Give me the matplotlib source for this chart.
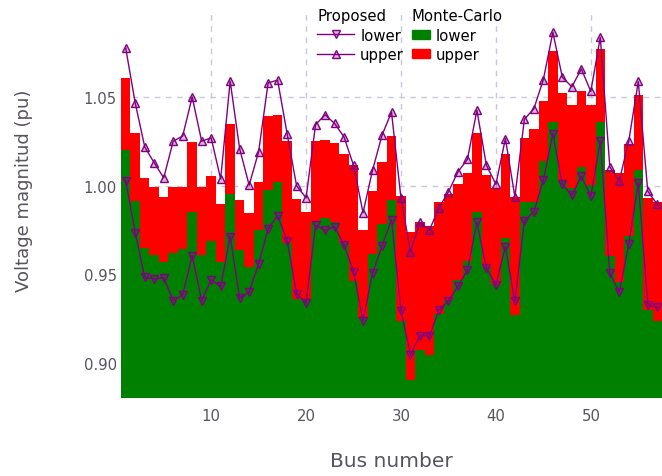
import numpy as np
import matplotlib
matplotlib.use("Agg")
import matplotlib.pyplot as plt
from matplotlib.lines import Line2D
from matplotlib.patches import Patch

bus = np.arange(1, 58)

# Proposed method bounds
prop_lower = np.array([
    1.0028, 0.9735, 0.9483, 0.9472, 0.9481, 0.9350, 0.9384, 0.9605, 0.9350, 0.9468,
    0.9431, 0.9713, 0.9365, 0.9399, 0.9558, 0.9756, 0.9831, 0.9690, 0.9391, 0.9337,
    0.9778, 0.9748, 0.9769, 0.9666, 0.9515, 0.9237, 0.9506, 0.9660, 0.9808, 0.9293,
    0.9045, 0.9153, 0.9149, 0.9299, 0.9350, 0.9431, 0.9525, 0.9793, 0.9534, 0.9440,
    0.9656, 0.9346, 0.9803, 0.9853, 1.0032, 1.0295, 1.0008, 0.9947, 1.0054, 0.9942,
    1.0252, 0.9506, 0.9399, 0.9671, 1.0017, 0.9328, 0.9312,
])
prop_upper = np.array([
    1.0778, 1.0468, 1.0220, 1.0130, 1.0045, 1.0252, 1.0282, 1.0502, 1.0252, 1.0271,
    1.0039, 1.0592, 1.0210, 1.0004, 1.0192, 1.0582, 1.0598, 1.0295, 1.0000, 0.9932,
    1.0346, 1.0402, 1.0353, 1.0276, 1.0116, 0.9848, 1.0088, 1.0286, 1.0417, 0.9929,
    0.9628, 0.9793, 0.9750, 0.9876, 0.9966, 1.0079, 1.0150, 1.0427, 1.0116, 1.0009,
    1.0267, 0.9938, 1.0376, 1.0436, 1.0601, 1.0868, 1.0614, 1.0560, 1.0661, 1.0534,
    1.0840, 1.0107, 1.0028, 1.0254, 1.0590, 0.9970, 0.9895,
])

# Monte-Carlo bounds
mc_lower = np.array([
    1.0201, 0.9912, 0.9650, 0.9607, 0.9570, 0.9619, 0.9643, 0.9853, 0.9607, 0.9686,
    0.9570, 0.9953, 0.9637, 0.9542, 0.9748, 0.9976, 1.0023, 0.9675, 0.9359, 0.9359,
    0.9797, 0.9816, 0.9797, 0.9675, 0.9459, 0.9252, 0.9617, 0.9786, 0.9919, 0.9237,
    0.8899, 0.9074, 0.9042, 0.9275, 0.9356, 0.9466, 0.9572, 0.9850, 0.9543, 0.9440,
    0.9703, 0.9271, 0.9910, 0.9910, 1.0143, 1.0361, 1.0034, 0.9989, 1.0109, 1.0004,
    1.0361, 0.9602, 0.9455, 0.9718, 1.0090, 0.9299, 0.9237,
])
mc_upper = np.array([
    1.0611, 1.0301, 1.0047, 0.9991, 0.9934, 0.9996, 0.9991, 1.0250, 0.9991, 1.0058,
    0.9895, 1.0351, 0.9917, 0.9844, 1.0023, 1.0396, 1.0402, 1.0256, 0.9923, 0.9852,
    1.0254, 1.0259, 1.0244, 1.0182, 1.0116, 0.9750, 0.9972, 1.0132, 1.0280, 0.9944,
    0.9737, 0.9793, 0.9775, 0.9906, 0.9951, 1.0013, 1.0075, 1.0301, 1.0060, 0.9989,
    1.0182, 0.9938, 1.0272, 1.0323, 1.0481, 1.0763, 1.0526, 1.0458, 1.0537, 1.0455,
    1.0774, 1.0088, 1.0070, 1.0239, 1.0511, 0.9929, 0.9910,
])

ymin, ymax = 0.88, 1.10
TXT = "#58545e"
PURPLE = "#800080"
FS = 10.7

fig = plt.figure(figsize=(6.62, 4.77), dpi=100)
ax = fig.add_axes([121 / 662, 78 / 477, 541 / 662, 389 / 477])

ax.bar(bus, mc_upper - ymin, bottom=ymin, width=1.0, color="#ff0000", linewidth=0)
ax.bar(bus, mc_lower - ymin, bottom=ymin, width=1.0, color="#008000", linewidth=0)

mk = dict(color=PURPLE, linewidth=1.0, markersize=6,
          markerfacecolor=(0.5, 0.0, 0.5, 0.3), markeredgecolor=PURPLE,
          markeredgewidth=1.0)
ax.plot(bus, prop_lower, marker="v", **mk)
ax.plot(bus, prop_upper, marker="^", **mk)

ax.set_xlim(0.5, 57.5)
ax.set_ylim(ymin, ymax)
ax.set_xticks([10, 20, 30, 40, 50])
ax.set_yticks([0.90, 0.95, 1.00, 1.05])
ax.set_yticklabels(["0.90", "0.95", "1.00", "1.05"])
ax.set_axisbelow(True)
ax.grid(True, linestyle=(0, (4, 4)), color="#c8c8dc", linewidth=1.0)
for s in ax.spines.values():
    s.set_visible(False)
ax.tick_params(length=0, labelsize=FS, labelcolor=TXT)
ax.tick_params(axis="x", pad=7)
ax.tick_params(axis="y", pad=3)

ax.set_xlabel("Bus number", fontsize=14.5, color=TXT)
ax.set_ylabel("Voltage magnitud (pu)", fontsize=13, color=TXT)
ax.xaxis.set_label_coords(0.5, -0.136)
ax.yaxis.set_label_coords(-0.163, 0.535)

h_prop = [Line2D([], [], marker="v", **mk), Line2D([], [], marker="^", **mk)]
leg1 = ax.legend(h_prop, ["lower", "upper"], title="Proposed",
                 loc="upper left", bbox_to_anchor=(0.357, 1.01),
                 frameon=False, fontsize=FS, title_fontsize=FS,
                 alignment="left", handlelength=2.5, handletextpad=0.4,
                 labelspacing=0.3, borderpad=0.2, borderaxespad=0)
ax.add_artist(leg1)
h_mc = [Patch(color="#008000"), Patch(color="#ff0000")]
ax.legend(h_mc, ["lower", "upper"], title="Monte-Carlo",
          loc="upper left", bbox_to_anchor=(0.532, 1.01),
          frameon=False, fontsize=FS, title_fontsize=FS,
          alignment="left", handlelength=1.2, handleheight=0.55,
          handletextpad=0.4, labelspacing=0.3, borderpad=0.2,
          borderaxespad=0)

fig.savefig("out.png", dpi=100)
plt.close()
